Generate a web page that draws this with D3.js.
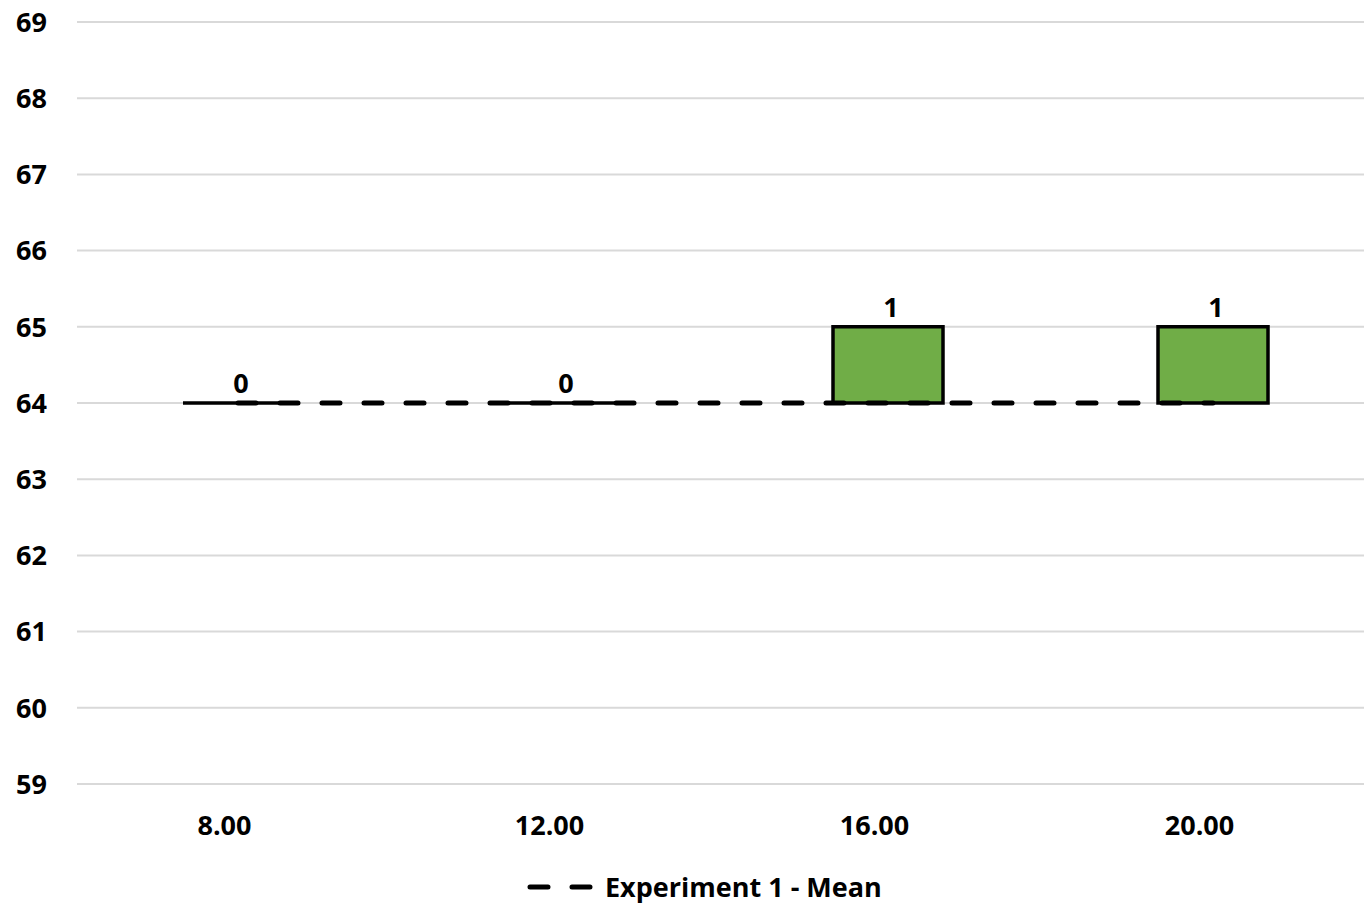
<!DOCTYPE html>
<html>
<head>
<meta charset="utf-8">
<script src="https://cdn.jsdelivr.net/npm/d3@7"></script>
<style>
    body { margin: 0; background: #fff; }
    text { font-family: "Open Sans", sans-serif; font-weight: bold; fill: #000; }
</style>
</head>
<body>
<svg id="chart" width="1364" height="905"></svg>
<script>
// chart data
const categories = ["8.00", "12.00", "16.00", "20.00"];
const meanValues = [64, 64, 64, 64];     // Experiment 1 - Mean
const diffValues = [0, 0, 1, 1];         // bar heights above the mean
const yTicks = [59, 60, 61, 62, 63, 64, 65, 66, 67, 68, 69];

let svg = d3.select("#chart");

let plotLeft = 77, plotRight = 1364;

let xScale = d3.scaleBand()
    .domain(categories)
    .range([62, 1362]);

let yScale = d3.scaleLinear()
    .domain([59, 69])
    .range([784, 22]);

let barWidth = 110,
    barShift = 13.5;   //bars sit a bit right of the category label

//Gridlines
svg.append("g").selectAll("line")
    .data(yTicks)
    .enter().append("line")
    .attr("x1", plotLeft)
    .attr("x2", plotRight)
    .attr("y1", d => yScale(d))
    .attr("y2", d => yScale(d))
    .attr("stroke", "#d9d9d9")
    .attr("stroke-width", 2);

//Y axis labels
svg.append("g").selectAll("text")
    .data(yTicks)
    .enter().append("text")
    .attr("x", 47)
    .attr("y", d => yScale(d))
    .attr("dy", "0.36em")
    .attr("text-anchor", "end")
    .style("font-size", "27px")
    .text(d => d);

//X axis labels
svg.append("g").selectAll("text")
    .data(categories)
    .enter().append("text")
    .attr("x", d => xScale(d) + xScale.bandwidth() / 2)
    .attr("y", 825)
    .attr("dy", "0.36em")
    .attr("text-anchor", "middle")
    .style("font-size", "27px")
    .text(d => d);

let barX = (d) => xScale(d) + xScale.bandwidth() / 2 + barShift;

//Bars (drawn as closed paths so zero-height bars still show their outline)
svg.append("g").selectAll("path")
    .data(categories)
    .enter().append("path")
    .attr("d", (d, i) => {
        let p = d3.path(),
            x0 = barX(d) - barWidth / 2,
            y0 = yScale(meanValues[i] + diffValues[i]),
            y1 = yScale(meanValues[i]);
        p.moveTo(x0, y1);
        p.lineTo(x0, y0);
        p.lineTo(x0 + barWidth, y0);
        p.lineTo(x0 + barWidth, y1);
        p.closePath();
        return p.toString();
    })
    .attr("fill", "#70ad47")
    .attr("stroke", "#000")
    .attr("stroke-width", 3.5);

//Bar value labels
svg.append("g").selectAll("text")
    .data(categories)
    .enter().append("text")
    .attr("x", d => barX(d) + 3)
    .attr("y", (d, i) => yScale(meanValues[i] + diffValues[i]) - 20)
    .attr("dy", "0.36em")
    .attr("text-anchor", "middle")
    .style("font-size", "27px")
    .text((d, i) => diffValues[i]);

//Mean line
let meanLine = d3.line()
    .x(d => barX(d))
    .y((d, i) => yScale(meanValues[i]));

svg.append("path")
    .datum(categories)
    .attr("d", meanLine)
    .attr("fill", "none")
    .attr("stroke", "#000")
    .attr("stroke-width", 5)
    .attr("stroke-dasharray", "18,24")
    .attr("stroke-linecap", "round");

//Legend
let legend = svg.append("g").attr("transform", "translate(527,887)");
legend.append("line")
    .attr("x1", 3).attr("x2", 64)
    .attr("stroke", "#000")
    .attr("stroke-width", 5)
    .attr("stroke-dasharray", "18,24")
    .attr("stroke-linecap", "round");
legend.append("text")
    .attr("x", 78)
    .attr("dy", "0.36em")
    .style("font-size", "27px")
    .text("Experiment 1 - Mean");
</script>
</body>
</html>
